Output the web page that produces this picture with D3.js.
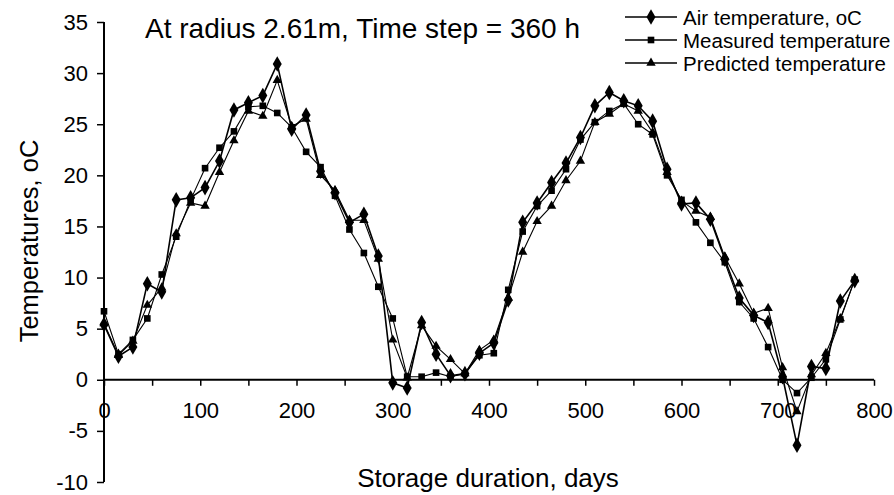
<!DOCTYPE html>
<html>
<head>
<meta charset="utf-8">
<script src="https://cdn.jsdelivr.net/npm/d3@7"></script>
<style>
  body { margin: 0; background: #fff; }
  text { font-family: "Liberation Sans", Arial, sans-serif; fill: #000; }
</style>
</head>
<body>
<svg></svg>
<script>
// storage days, one point every 360 h (15 days)
var days = [0, 15, 30, 45, 60, 75, 90, 105, 120, 135, 150, 165, 180, 195, 210, 225, 240, 255, 270, 285,
  300, 315, 330, 345, 360, 375, 390, 405, 420, 435, 450, 465, 480, 495, 510, 525, 540, 555, 570, 585,
  600, 615, 630, 645, 660, 675, 690, 705, 720, 735, 750, 765, 780];

var airTemp = [5.4, 2.3, 3.2, 9.4, 8.6, 17.6, 17.8, 18.8, 21.4, 26.4, 27.1, 27.8, 30.9, 24.5, 25.9, 20.4, 18.3, 15.4, 16.2, 12.1,
  -0.3, -0.8, 5.6, 2.5, 0.4, 0.6, 2.6, 3.6, 7.8, 15.4, 17.3, 19.3, 21.2, 23.7, 26.8, 28.1, 27.3, 26.8, 25.3, 20.6,
  17.2, 17.3, 15.7, 11.8, 8.0, 6.3, 5.6, 0.3, -6.4, 1.3, 1.1, 7.7, 9.7];

var measuredTemp = [6.7, 2.5, 3.9, 6.0, 10.3, 14.0, 17.6, 20.7, 22.7, 24.3, 26.7, 26.8, 26.1, 24.7, 22.3, 20.8, 18.0, 14.7, 12.4, 9.1,
  6.0, 0.3, 0.3, 0.7, 0.3, 0.6, 2.4, 2.6, 8.8, 14.5, 17.0, 18.5, 20.6, 23.5, 25.2, 26.3, 27.0, 25.0, 24.0, 20.0,
  17.6, 15.4, 13.4, 11.5, 7.6, 6.0, 3.2, 0.0, -1.3, 0.2, 2.0, 5.9, 9.8];

var predictedTemp = [5.5, 2.4, 3.8, 7.3, 9.0, 14.3, 17.3, 17.0, 20.3, 23.4, 26.3, 25.8, 29.3, 24.8, 25.5, 20.0, 18.5, 15.6, 15.6, 11.8,
  3.9, 0.2, 5.3, 3.3, 2.0, 0.6, 2.9, 3.9, 8.0, 12.5, 15.5, 17.0, 19.5, 21.4, 25.2, 26.0, 27.0, 26.3, 24.2, 20.3,
  17.5, 16.5, 15.9, 12.0, 9.4, 6.5, 7.0, 1.2, -3.1, 0.5, 2.6, 6.0, 9.8];

var seriesNames = ["Air temperature, oC", "Measured temperature", "Predicted temperature"];
var xTicks = [0, 100, 200, 300, 400, 500, 600, 700, 800];
var yTicks = [-10, -5, 0, 5, 10, 15, 20, 25, 30, 35];

var svg = d3.select("svg"),
    width = 894,
    height = 495;

svg.attr("width", width)
  .attr("height", height);

var x = d3.scaleLinear()
  .domain([0, 800])
  .range([104, 874]);

var y = d3.scaleLinear()
  .domain([-10, 35])
  .range([482, 22]);

var series = [
  {name: seriesNames[0], values: airTemp, symbol: d3.symbolDiamond, size: 70, width: 1.6},
  {name: seriesNames[1], values: measuredTemp, symbol: d3.symbolSquare, size: 44, width: 1.1},
  {name: seriesNames[2], values: predictedTemp, symbol: d3.symbolTriangle, size: 38, width: 1.1}
];

// axes (plain hyphen for negatives, like the original)
var yAxis = svg.append("g")
  .attr("transform", "translate(" + x(0) + ",0)")
  .call(d3.axisLeft(y).tickValues(yTicks).tickSize(7).tickPadding(9)
    .tickFormat(function(d) { return String(d); }));

var xAxis = svg.append("g")
  .attr("transform", "translate(0," + y(0) + ")")
  .call(d3.axisBottom(x).ticks(16).tickSize(6).tickFormat(function(d) {
    return xTicks.indexOf(d) >= 0 ? String(d) : "";
  }).tickPadding(17));

svg.selectAll(".domain").attr("stroke", "#000").attr("stroke-width", 2);
svg.selectAll(".tick line").attr("stroke", "#000").attr("stroke-width", 1.5);
svg.selectAll(".tick text")
  .style("font-size", "22px")
  .style("font-family", "Liberation Sans, Arial, sans-serif");
yAxis.select(".domain").attr("d", "M0," + y(35) + "V" + y(-10));
xAxis.select(".domain").attr("d", "M" + x(0) + ",0H" + x(800));

// series lines and markers
var line = d3.line()
  .x(function(d, i) { return x(days[i]); })
  .y(function(d) { return y(d); });

series.forEach(function(s) {
  svg.append("path")
    .datum(s.values)
    .attr("fill", "none")
    .attr("stroke", "#000")
    .attr("stroke-width", s.width)
    .attr("d", line);
});

series.forEach(function(s) {
  svg.append("g")
    .selectAll("path")
    .data(s.values)
    .enter().append("path")
    .attr("d", d3.symbol().type(s.symbol).size(s.size))
    .attr("fill", "#000")
    .attr("transform", function(d, i) {
      return "translate(" + x(days[i]) + "," + y(d) + ")";
    });
});

// titles
svg.append("text")
  .attr("x", 145)
  .attr("y", 38)
  .style("font-size", "28px")
  .text("At radius 2.61m, Time step = 360 h");

svg.append("text")
  .attr("x", 488)
  .attr("y", 487)
  .attr("text-anchor", "middle")
  .style("font-size", "26px")
  .text("Storage duration, days");

svg.append("text")
  .attr("transform", "translate(38,241) rotate(-90)")
  .attr("text-anchor", "middle")
  .style("font-size", "25.5px")
  .text("Temperatures, oC");

// legend
var legend = svg.append("g")
  .selectAll("g")
  .data(series)
  .enter().append("g")
  .attr("transform", function(d, i) { return "translate(625," + (17 + i * 23) + ")"; });

legend.append("line")
  .attr("x1", 0)
  .attr("x2", 52)
  .attr("stroke", "#000")
  .attr("stroke-width", 1.6);

legend.append("path")
  .attr("d", function(d) { return d3.symbol().type(d.symbol).size(d.size)(); })
  .attr("transform", "translate(26,0)")
  .attr("fill", "#000");

legend.append("text")
  .attr("x", 58)
  .attr("y", 8)
  .style("font-size", "20.5px")
  .text(function(d) { return d.name; });
</script>
</body>
</html>
